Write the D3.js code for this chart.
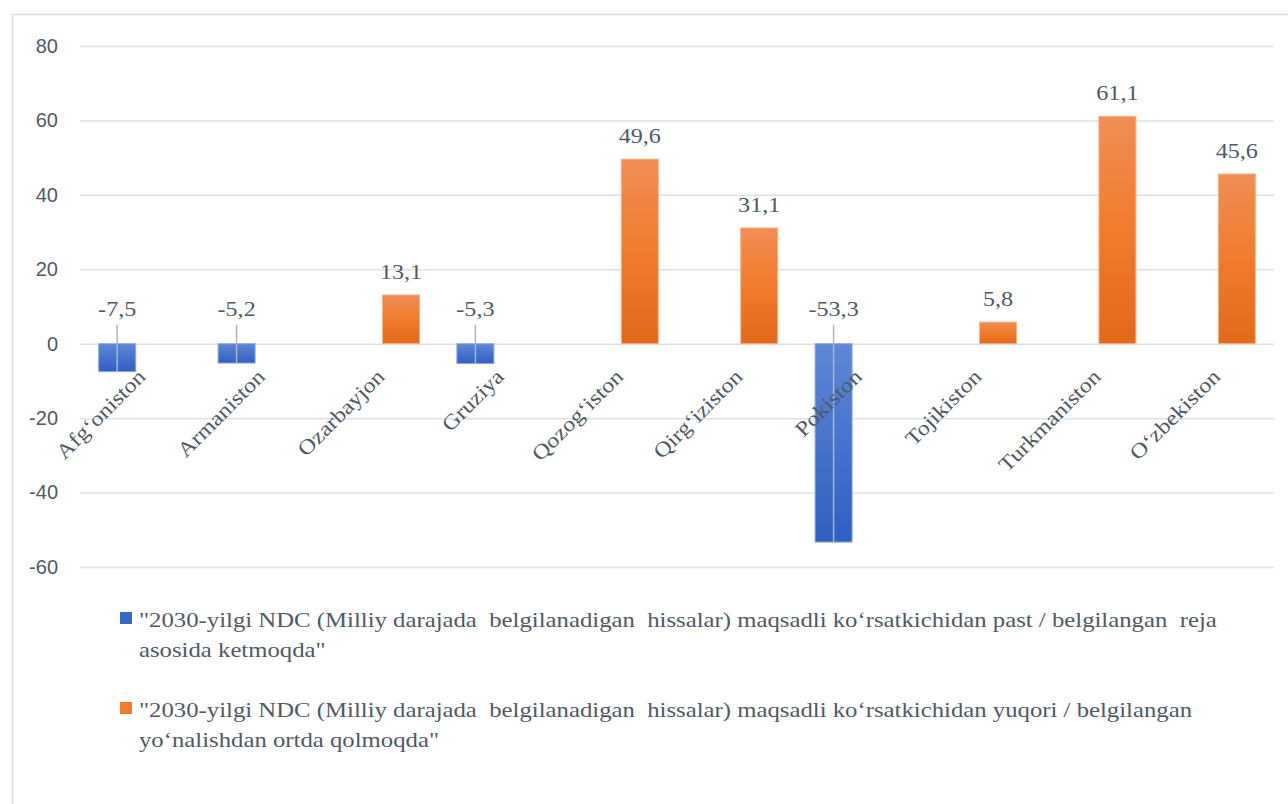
<!DOCTYPE html>
<html><head><meta charset="utf-8">
<script src="https://cdn.jsdelivr.net/npm/d3@7"></script>
<style>body{margin:0;background:#fff} svg{display:block} text{white-space:pre} .serif{font-family:"Liberation Serif","DejaVu Serif","Noto Serif",serif}</style>
</head><body><svg id="c" width="1288" height="804"></svg>
<script>
const categories = ["Afg‘oniston","Armaniston","Ozarbayjon","Gruziya","Qozog‘iston","Qirg‘iziston","Pokiston","Tojikiston","Turkmaniston","O‘zbekiston"];
const seriesKeys = ["below","above"];
const belowValues = [-7.5,-5.2,null,-5.3,null,null,-53.3,null,null,null];
const aboveValues = [null,null,13.1,null,49.6,31.1,null,5.8,61.1,45.6];
const yTicks = [-60,-40,-20,0,20,40,60,80];
const legendBelowLines = ['"2030-yilgi NDC (Milliy darajada  belgilanadigan  hissalar) maqsadli ko‘rsatkichidan past / belgilangan  reja','asosida ketmoqda"'];
const legendAboveLines = ['"2030-yilgi NDC (Milliy darajada  belgilanadigan  hissalar) maqsadli ko‘rsatkichidan yuqori / belgilangan','yo‘nalishdan ortda qolmoqda"'];

const svg = d3.select("#c");
const textColor = "#4f5967";

// chart frame
svg.append("path").attr("d","M12.5,804 V14.5 H1288").attr("fill","none").attr("stroke","#dadee3").attr("stroke-width",1.5);

const x0 = d3.scaleBand().domain(categories).range([80,1274]).paddingInner(0.313).paddingOuter(0.1565);
const x1 = d3.scaleBand().domain(seriesKeys).range([0,x0.bandwidth()]).paddingInner(0.178);
const y = d3.scaleLinear().domain([-60,80]).range([567,46]);

// gradients
const defs = svg.append("defs");
const gB = defs.append("linearGradient").attr("id","gB").attr("x1",0).attr("y1",0).attr("x2",0).attr("y2",1);
gB.append("stop").attr("offset","0%").attr("stop-color","#5f87d8");
gB.append("stop").attr("offset","100%").attr("stop-color","#2f5fc1");
const gO = defs.append("linearGradient").attr("id","gO").attr("x1",0).attr("y1",0).attr("x2",0).attr("y2",1);
gO.append("stop").attr("offset","0%").attr("stop-color","#f18d55");
gO.append("stop").attr("offset","50%").attr("stop-color","#f07c2b");
gO.append("stop").attr("offset","100%").attr("stop-color","#e2691a");

const fmt = v => (v<0?"-":"") + Math.abs(v).toFixed(1).replace(".",",");
const fmtTick = v => (v<0?"-":"") + Math.abs(v);

// gridlines + y axis
const yAxis = d3.axisLeft(y).tickValues(yTicks).tickSize(-(1274-80)).tickPadding(22).tickFormat(fmtTick);
const ga = svg.append("g").attr("transform","translate(80,0)").call(yAxis);
ga.select(".domain").remove();
ga.selectAll(".tick line").attr("stroke","#dde1e6").attr("stroke-width",1.5);
ga.selectAll(".tick text").attr("fill",textColor).attr("font-family","'Liberation Sans',Arial,sans-serif").attr("font-size",20);

const data = [];
categories.forEach((c,i)=>{
  if (belowValues[i]!=null) data.push({c, k:"below", v:belowValues[i]});
  if (aboveValues[i]!=null) data.push({c, k:"above", v:aboveValues[i]});
});

// bars
svg.append("g").selectAll("rect").data(data).join("rect")
  .attr("x", d=>x0(d.c)+x1(d.k))
  .attr("width", x1.bandwidth())
  .attr("y", d=>Math.min(y(0),y(d.v)))
  .attr("height", d=>Math.abs(y(d.v)-y(0)))
  .attr("fill", d=>d.k==="below"?"url(#gB)":"url(#gO)")
  .attr("stroke", d=>d.k==="below"?"#8aa8e4":"#f6b48a").attr("stroke-width",1);

// leader lines for negative labels
const negLabelBase = y(0) - 28;
svg.append("g").selectAll("line").data(data.filter(d=>d.v<0)).join("line")
  .attr("x1", d=>x0(d.c)+x1(d.k)+x1.bandwidth()/2)
  .attr("x2", d=>x0(d.c)+x1(d.k)+x1.bandwidth()/2)
  .attr("y1", negLabelBase+9)
  .attr("y2", d=>y(d.v))
  .attr("stroke","#aeb4bc").attr("stroke-width",1.5);

// data labels
svg.append("g").selectAll("text").data(data).join("text")
  .attr("class","serif")
  .attr("transform", d=>{
    const cx = x0(d.c)+x1(d.k)+x1.bandwidth()/2;
    const by = d.v<0 ? negLabelBase : y(d.v)-16;
    return `translate(${cx},${by}) scale(1.15,1)`;
  })
  .attr("text-anchor","middle")
  .attr("font-size",21).attr("fill",textColor)
  .text(d=>fmt(d.v));

// category labels
svg.append("g").selectAll("text").data(categories).join("text")
  .attr("class","serif")
  .attr("transform", c=>`translate(${x0(c)+x0.bandwidth()/2+2},${y(0)+29}) rotate(-45) scale(1.15,1)`)
  .attr("text-anchor","end").attr("dy","0.35em")
  .attr("font-size",21).attr("fill",textColor)
  .text(c=>c);

// legend
const legend = [
  {k:"below", fill:"#3a68c8", lines:legendBelowLines},
  {k:"above", fill:"#f07c2b", lines:legendAboveLines}
];
const lg = svg.append("g").selectAll("g").data(legend).join("g")
  .attr("transform",(d,i)=>`translate(120,${612+i*90})`);
lg.append("rect").attr("width",12).attr("height",12).attr("fill",d=>d.fill);
lg.append("text").attr("class","serif").attr("transform","translate(19,15) scale(1.125,1)")
  .attr("font-size",22).attr("fill",textColor)
  .selectAll("tspan").data(d=>d.lines).join("tspan")
  .attr("x",0).attr("dy",(d,i)=>i===0?0:30).text(d=>d);
</script></body></html>
